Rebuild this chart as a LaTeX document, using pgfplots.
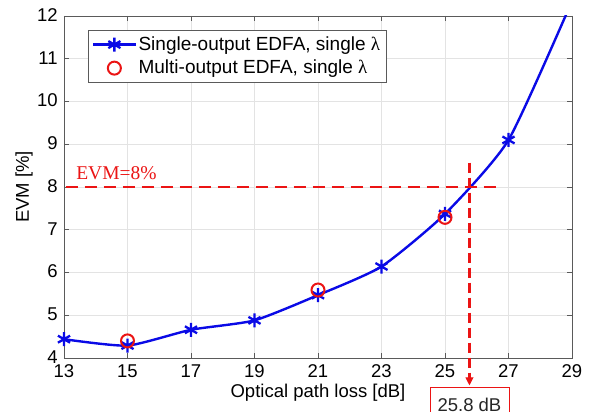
\documentclass[border=0pt]{standalone}
\usepackage{pgfplots}
\pgfplotsset{compat=1.18}
\usepackage{fontspec}
\setmainfont{Liberation Sans}
\newfontfamily\seriffont{Liberation Serif}
\usetikzlibrary{arrows.meta}
\definecolor{myblue}{RGB}{10,10,230}
\definecolor{myred}{RGB}{235,20,20}
\definecolor{axgray}{RGB}{90,90,90}
\pgfplotsset{
  longlegend/.style={legend image code/.code={\draw[mark repeat=2,mark phase=2,#1] plot coordinates {(0pt,0pt) (21pt,0pt) (42pt,0pt)};}},
  midmark/.style={legend image code/.code={\draw[#1] plot coordinates {(21pt,0pt)};}},
}
\begin{document}
\fontsize{18.5}{22}\selectfont
\begin{tikzpicture}
\begin{axis}[
  name=ax, at={(0,0)}, anchor=south west,
  scale only axis, width=508pt, height=342pt,
  xmin=13, xmax=29, ymin=4, ymax=12,
  xtick={13,15,...,29}, ytick={4,5,...,12},
  grid=major, major grid style={gray!22, line width=0.6pt},
  tick align=inside, xtick pos=both, ytick pos=both, major tick length=5pt,
  axis line style={axgray, line width=0.8pt},
  tick style={axgray, line width=0.6pt},
  tick label style={font=\fontsize{18.5}{22}\selectfont},
  yticklabel style={yshift=1pt},
  /pgf/number format/assume math mode=true,
  label style={font=\fontsize{18.5}{22}\selectfont},
  xlabel={Optical path loss [dB]}, ylabel={EVM [\%]},
  every axis y label/.style={at={(rel axis cs:-0.0787,0.5)}, rotate=90, anchor=center},
  every axis x label/.style={at={(rel axis cs:0.5,-0.102)}, anchor=center},
  clip mode=individual,
  legend style={at={(rel axis cs:0.047,0.959)}, anchor=north west, draw=axgray, line width=0.6pt,
    font=\fontsize{19}{22}\selectfont, inner xsep=4pt, inner ysep=4pt, row sep=3pt},
  legend cell align=left,
]
\addplot[myblue, line width=2.4pt, smooth, tension=0.35, mark=asterisk, mark size=7pt,
  mark options={line width=2.3pt}, longlegend]
  coordinates {(13,4.44) (15,4.29) (17,4.66) (19,4.88) (21,5.47) (23,6.14) (25,7.37) (27,9.10) (29,12.35)};
\addlegendentry{Single-output EDFA, single {\seriffont λ}}
\addplot[myred, only marks, mark=o, mark size=6.5pt, mark options={line width=2pt}, midmark]
  coordinates {(15,4.40) (21,5.59) (25,7.29)};
\addlegendentry{Multi-output EDFA, single {\seriffont λ}}
\addplot[myred, line width=2.6pt, dash pattern=on 12pt off 7pt, forget plot]
  coordinates {(13.05,8) (26.65,8)};
\draw[myred, line width=2.6pt, dash pattern=on 10pt off 5pt]
  (axis cs:25.77,8.57) -- (axis cs:25.77,3.48);
\draw[myred, -{Triangle[length=8pt,width=8pt]}, line width=1pt]
  (axis cs:25.77,3.6) -- (axis cs:25.77,3.36);
\node[text=myred, anchor=west, font=\seriffont\fontsize{19.5}{22}\selectfont, inner sep=0pt]
  at (axis cs:13.38,8.33) {EVM=8\%};
\node[draw=myred, line width=0.8pt, anchor=north, minimum width=79pt, minimum height=32pt,
  inner sep=0pt, text depth=0pt, font=\fontsize{18.5}{22}\selectfont, text=black!85]
  at (axis cs:25.77,3.31) {\raisebox{-2pt}{25.8 dB}};
\end{axis}
\pgfresetboundingbox
\path[use as bounding box] ([xshift=-64pt,yshift=-54pt]ax.south west) rectangle ([xshift=28pt,yshift=16pt]ax.north east);
\end{tikzpicture}
\end{document}
